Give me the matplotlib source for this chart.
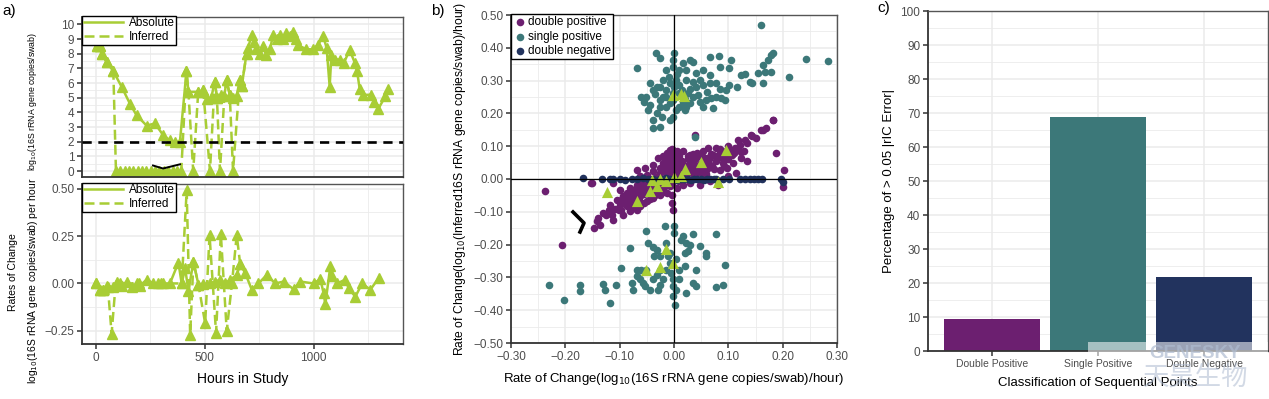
import matplotlib
matplotlib.use('Agg')
import matplotlib.pyplot as plt
from matplotlib.lines import Line2D
from matplotlib.patches import Rectangle
from matplotlib.ticker import MultipleLocator, FuncFormatter

plt.rcParams['font.family'] = ['Liberation Sans', 'DejaVu Sans']

lime = '#A8CD35'
purple = '#6C1F70'
teal = '#3C7879'
navy = '#22335E'
grid_c = '#EBEBEB'

# --- panel a (top): log10 copies per swab over time
abs_hours = [5, 18, 26, 49, 80, 118, 156, 187, 233, 271,
             309, 340, 365, 386, 416, 425, 470, 493, 510, 530,
             546, 556, 575, 590, 600, 615, 630, 646, 661, 670,
             692, 700, 715, 725, 737, 755, 768, 783, 800, 814,
             830, 845, 860, 875, 890, 906, 918, 929, 965, 998,
             1020, 1044, 1060, 1074, 1082, 1100, 1120, 1140, 1166, 1189,
             1200, 1212, 1225, 1265, 1280, 1296, 1330, 1342]
abs_log = [8.5, 8.5, 8.0, 7.45, 6.8, 5.75, 4.6, 3.8, 3.1, 3.25,
           2.45, 2.1, 2.0, 2.0, 6.8, 5.4, 5.4, 5.5, 4.9, 5.0,
           6.1, 5.0, 5.2, 5.1, 6.2, 5.2, 5.0, 5.1, 6.2, 5.8,
           8.0, 8.4, 9.3, 8.8, 8.3, 8.0, 8.5, 7.9, 8.3, 9.3,
           9.0, 9.3, 9.0, 9.4, 9.2, 9.5, 9.0, 8.6, 8.3, 8.3,
           8.6, 9.2, 8.4, 5.75, 7.9, 7.6, 7.6, 7.4, 8.25, 7.4,
           6.8, 5.6, 5.2, 5.2, 4.7, 4.2, 5.1, 5.6]
inf_hours = [5, 18, 26, 49, 80,
             92, 112, 132, 152, 172, 192, 212, 232,
             252, 272, 292, 312, 332, 352, 372, 392,
             416, 425, 447, 470, 493, 524, 546, 556,
             570, 590, 600, 615, 630, 661, 670, 692]
inf_log = [8.5, 8.5, 8.0, 7.45, 6.8,
           0, 0, 0, 0, 0, 0, 0, 0,
           0, 0, 0, 0, 0, 0, 0, 0,
           6.8, 5.4, 0, 5.4, 5.5, 0, 6.1, 5.0,
           0, 5.1, 6.2, 5.2, 0, 6.2, 5.8, 8.0]

# --- panel a (bottom): rates of change
rate_hours = [0, 18, 34, 49, 80, 95, 118, 141, 164, 187,
              202, 233, 264, 287, 310, 340, 379, 394, 410, 425,
              448, 471, 494, 525, 548, 571, 594, 617, 647, 663,
              686, 716, 747, 785, 824, 862, 908, 939, 1000, 1031,
              1046, 1054, 1077, 1085, 1108, 1146, 1161, 1192, 1223, 1261,
              1299]
rate_abs = [0.005, -0.033, -0.033, -0.012, -0.02, 0.01, -0.016, 0.01, -0.02, 0.0,
            -0.012, 0.02, 0.0, 0.0, 0.0, 0.0, 0.11, 0.0, 0.08, -0.04,
            0.115, -0.007, -0.002, 0.0, 0.01, 0.02, 0.0, 0.02, 0.045, 0.1,
            0.055, -0.033, 0.0, 0.045, 0.0, 0.01, -0.03, 0.01, 0.0, 0.023,
            -0.05, -0.11, 0.09, 0.037, 0.0, 0.02, -0.025, -0.07, 0.0, -0.033,
            0.028]
inf_rate_hours = [0, 18, 34, 55, 72, 90, 110, 200, 300, 394, 417,
                  433, 448, 471, 502, 522, 552, 574, 601, 625, 647, 663]
inf_rate = [0.005, -0.033, -0.033, -0.02, -0.264, -0.01, 0.0, 0.0, 0.0, 0.0, 0.49,
            -0.27, 0.115, -0.007, -0.21, 0.255, -0.26, 0.26, -0.25, 0.0, 0.255, 0.1]

# --- panel b: rate of change, absolute vs inferred
dp_x = [0.183, 0.164, 0.143, 0.130, 0.118, 0.100, 0.078, 0.063, 0.054, 0.042,
        0.029, 0.017, 0.005, -0.007, -0.013, -0.020, -0.029, -0.038, -0.053, -0.069,
        0.124, 0.134, 0.106, 0.091, 0.078, 0.066, 0.054, 0.042, 0.029, 0.017,
        0.011, 0.005, -0.001, -0.013, -0.026, -0.038, -0.050, -0.062, -0.151, -0.112,
        -0.099, -0.087, -0.093, -0.105, -0.081, -0.069, -0.056, -0.044, -0.032, -0.020,
        -0.007, 0.005, 0.017, 0.029, 0.048, 0.066, 0.081, -0.118, -0.130, -0.142,
        -0.148, -0.136, -0.115, -0.102, -0.087, -0.075, -0.062, -0.050, -0.038, -0.026,
        -0.013, -0.004, -0.004, -0.001, -0.081, -0.093, -0.112, -0.069, -0.056, -0.026,
        -0.013, -0.038, 0.011, 0.023, 0.036, 0.054, 0.060, 0.072, 0.085, 0.097,
        0.112, 0.121, -0.020, -0.007, -0.026, -0.050, -0.069, -0.081, 0.100, 0.115,
        0.085, 0.097, 0.038, 0.182, 0.188, 0.203, 0.200, -0.152, -0.238, 0.124,
        0.142, 0.160, 0.170, -0.207, -0.002, -0.008,
        -0.010, 0.000, 0.010, 0.020, 0.030, 0.040, 0.000, -0.010, -0.020, -0.030,
        -0.040, -0.050, -0.060, -0.030, -0.020, 0.010, 0.020, 0.030, 0.045, 0.055,
        0.065, 0.075, 0.040, 0.025, 0.005, -0.005, -0.015, -0.045, -0.055, -0.070,
        -0.080, -0.090, -0.100, -0.075, -0.065, -0.045, -0.035, 0.010, 0.000, -0.015,
        0.035, 0.060, 0.070, 0.090, 0.100, 0.110, 0.085, 0.095,
        -0.140, -0.125, -0.120, -0.108, -0.098, -0.095, -0.085, -0.078, -0.072, -0.066,
        -0.060, -0.058, -0.052, -0.048, -0.042, -0.038, -0.034, -0.028, -0.024, -0.018,
        -0.016, -0.012, -0.008, -0.004, 0.002, 0.004, 0.008, 0.014, 0.016, 0.022,
        0.026, 0.032, 0.036, 0.044, 0.048, 0.052, 0.058, 0.062, 0.068, 0.074,
        0.080, 0.088, 0.092, 0.104, 0.108, 0.116, 0.128, 0.135, 0.150, -0.003]
dp_y = [0.181, 0.150, 0.130, 0.120, 0.120, 0.100, 0.095, 0.095, 0.084, 0.079,
        0.074, 0.084, 0.084, 0.089, 0.079, 0.069, 0.064, 0.044, 0.034, 0.028,
        0.064, 0.054, 0.074, 0.064, 0.054, 0.044, 0.034, 0.023, 0.034, 0.044,
        0.054, 0.064, 0.044, 0.054, 0.034, 0.023, 0.013, 0.008, -0.012, -0.012,
        -0.033, -0.043, -0.053, -0.063, -0.063, -0.048, -0.038, -0.027, -0.017, -0.012,
        -0.022, -0.027, -0.017, -0.012, -0.017, -0.007, -0.017, -0.078, -0.104, -0.129,
        -0.149, -0.139, -0.109, -0.093, -0.083, -0.073, -0.083, -0.068, -0.058, -0.048,
        -0.043, -0.048, -0.073, -0.095, -0.099, -0.109, -0.124, -0.093, -0.073, -0.022,
        -0.002, -0.002, 0.018, 0.013, 0.008, 0.013, 0.064, 0.074, 0.079, 0.089,
        0.095, 0.105, 0.049, 0.034, 0.018, -0.007, -0.017, -0.027, 0.008, 0.018,
        0.028, 0.034, 0.134, 0.180, 0.078, 0.027, -0.025, -0.013, -0.036, 0.083,
        0.134, 0.149, 0.157, -0.200, 0.083, 0.068,
        0.010, 0.020, 0.030, 0.040, 0.050, 0.040, 0.000, -0.010, 0.000, 0.010,
        -0.010, -0.020, -0.030, -0.030, -0.040, -0.005, 0.005, 0.020, 0.030, 0.050,
        0.060, 0.070, 0.065, 0.060, 0.050, 0.030, 0.020, 0.000, -0.045, -0.055,
        -0.045, -0.070, -0.080, -0.085, -0.065, -0.060, -0.050, 0.070, 0.075, 0.060,
        0.075, 0.030, 0.040, 0.050, 0.060, 0.080, 0.090, 0.080,
        -0.120, -0.110, -0.095, -0.090, -0.095, -0.060, -0.058, -0.070, -0.035, -0.042,
        -0.050, -0.012, -0.030, -0.005, -0.045, -0.015, 0.005, -0.008, 0.025, -0.025,
        0.040, 0.012, 0.055, -0.015, 0.035, 0.062, 0.010, 0.055, 0.020, 0.025,
        0.070, 0.035, 0.058, 0.020, 0.045, 0.070, 0.015, 0.050, 0.075, 0.030,
        0.060, 0.070, 0.040, 0.085, 0.050, 0.095, 0.085, 0.110, 0.125, 0.090]

sp_x = [0.160, -0.069, -0.034, 0.000, -0.014, -0.025, 0.030, 0.035, 0.066, 0.084,
        0.105, 0.102, 0.101, 0.124, 0.139, 0.154, 0.164, 0.173, 0.179, 0.167,
        0.179, 0.164, 0.212, 0.243, 0.283, -0.060, -0.051, -0.045, -0.039, -0.032,
        -0.048, -0.032, -0.039, -0.039, -0.026, -0.023, -0.008, -0.002, -0.014, -0.002,
        0.010, 0.023, 0.017, 0.026, 0.035, 0.047, 0.053, 0.059, 0.069, 0.072,
        0.078, 0.087, 0.093, 0.096, 0.078, 0.066, 0.053, 0.041, 0.035, 0.047,
        0.023, 0.010, 0.004, -0.008, -0.020, -0.026, -0.014, -0.002, 0.010, -0.014,
        -0.026, -0.008, -0.026, 0.004, 0.020, 0.029, 0.041, 0.053, 0.066, -0.002,
        0.010, 0.023, 0.017, -0.002, 0.038, 0.182, 0.131, 0.116, 0.144, 0.083,
        -0.045, -0.055, -0.020, 0.000, 0.015, 0.030, 0.060, 0.005, -0.010, -0.035,
        0.045, 0.085, 0.020,
        -0.230, -0.203, -0.173, -0.173, -0.130, -0.127, -0.118, -0.106, -0.097, -0.081,
        -0.075, -0.069, -0.063, -0.060, -0.054, -0.051, -0.048, -0.045, -0.039, -0.036,
        -0.032, -0.029, -0.026, -0.020, -0.017, -0.014, -0.011, -0.008, -0.005, -0.002,
        -0.002, 0.000, 0.001, 0.000, 0.004, 0.009, 0.013, 0.017, 0.023, 0.020,
        0.026, 0.029, 0.035, 0.020, 0.035, 0.041, 0.023, 0.047, 0.059, 0.059,
        0.078, 0.093, 0.078, 0.090, 0.041, -0.026, -0.014, 0.010, -0.051, -0.039,
        -0.002, -0.008, -0.026, 0.004, -0.032, -0.057, -0.069, -0.078]
sp_y = [0.470, 0.337, 0.385, 0.383, 0.332, 0.368, 0.363, 0.358, 0.373, 0.342,
        0.363, 0.337, 0.287, 0.317, 0.297, 0.322, 0.348, 0.363, 0.378, 0.327,
        0.327, 0.292, 0.312, 0.366, 0.361, 0.249, 0.251, 0.292, 0.271, 0.281,
        0.210, 0.200, 0.180, 0.154, 0.160, 0.190, 0.180, 0.190, 0.221, 0.241,
        0.221, 0.221, 0.236, 0.261, 0.251, 0.236, 0.221, 0.241, 0.246, 0.215,
        0.251, 0.246, 0.241, 0.271, 0.292, 0.292, 0.287, 0.281, 0.297, 0.302,
        0.302, 0.287, 0.302, 0.292, 0.302, 0.281, 0.271, 0.261, 0.261, 0.251,
        0.241, 0.231, 0.221, 0.210, 0.210, 0.231, 0.322, 0.332, 0.317, 0.342,
        0.332, 0.332, 0.353, 0.363, 0.129, 0.383, 0.321, 0.279, 0.293, 0.375,
        0.225, 0.235, 0.250, 0.280, 0.270, 0.275, 0.265, 0.320, 0.310, 0.260,
        0.255, 0.275, 0.245,
        -0.324, -0.368, -0.324, -0.340, -0.319, -0.339, -0.378, -0.322, -0.271, -0.210,
        -0.337, -0.296, -0.306, -0.276, -0.327, -0.159, -0.196, -0.337, -0.208, -0.234,
        -0.292, -0.337, -0.322, -0.306, -0.144, -0.195, -0.235, -0.256, -0.286, -0.327,
        -0.358, -0.144, -0.383, -0.164, -0.337, -0.306, -0.185, -0.174, -0.195, -0.225,
        -0.219, -0.202, -0.169, -0.266, -0.316, -0.327, -0.347, -0.205, -0.225, -0.235,
        -0.169, -0.261, -0.329, -0.322, -0.276, -0.276, -0.276, -0.276, -0.276, -0.306,
        -0.306, -0.225, -0.235, -0.245, -0.215, -0.317, -0.276, -0.317]

dn_x = [-0.167, -0.132, -0.118, -0.112, -0.100,
        -0.091, -0.078, -0.069, -0.057, -0.048,
        -0.039, -0.032, -0.026, -0.020, -0.014,
        -0.008, 0.000, 0.006, 0.012, 0.018,
        0.025, 0.031, 0.037, 0.043, 0.049,
        0.055, 0.061, 0.067, 0.073, 0.078,
        0.090, 0.102, 0.121, 0.130, 0.139,
        0.148, 0.154, 0.162, 0.197, 0.200]
dn_y = [0.003, 0.0, 0.0, 0.0, 0.0,
        -0.002, 0.0, 0.0, 0.002, 0.0,
        0.0, -0.002, 0.0, 0.0, 0.002,
        0.0, 0.0, -0.002, 0.0, 0.0,
        0.0, -0.002, 0.0, 0.0, 0.0,
        -0.002, 0.0, 0.0, 0.0, 0.0,
        0.0, 0.0, 0.0, 0.0, 0.0,
        0.0, 0.0, 0.0, 0.0, -0.010]

tri_x = [-0.002, 0.012, 0.018,
         0.096, 0.050, 0.020, 0.013, 0.081, -0.124, -0.044, -0.032,
         -0.014, -0.026, -0.069, 0.000, -0.040,
         -0.051, -0.026, -0.014, -0.002]
tri_y = [0.256, 0.258, 0.252,
         0.088, 0.053, 0.030, 0.010, -0.008, -0.039, -0.038, -0.022,
         -0.005, 0.000, -0.068, 0.005, -0.003,
         -0.278, -0.268, -0.212, -0.256]

# --- panel c
classes = ['Double Positive', 'Single Positive', 'Double Negative']
pct_err = [9.3, 68.8, 21.7]
bar_colors = [purple, teal, navy]

W, H = 1269, 399
fig = plt.figure(figsize=(W / 100, H / 100), dpi=100)


def px_axes(l, t, r, b):
    return fig.add_axes([l / W, 1 - b / H, (r - l) / W, (b - t) / H])


def minus(fmt):
    return FuncFormatter(lambda v, p: (fmt % v).replace('-', '\u2212'))


def style_ax(ax):
    ax.set_facecolor('white')
    ax.grid(which='major', color=grid_c, lw=1.1)
    ax.grid(which='minor', color=grid_c, lw=0.6)
    ax.set_axisbelow(True)
    for side in ['left', 'bottom']:
        ax.spines[side].set_color('#333333')
        ax.spines[side].set_linewidth(1.3)
    for side in ['top', 'right']:
        ax.spines[side].set_color('#555555')
        ax.spines[side].set_linewidth(1.0)
    ax.tick_params(which='major', direction='out', length=3.5, width=1.1, color='#333333',
                   labelsize=8.5, labelcolor='#4D4D4D', pad=2)
    ax.tick_params(which='minor', length=0)


def lime_legend(ax):
    handles = [Line2D([], [], color=lime, lw=1.8),
               Line2D([], [], color=lime, lw=1.8, ls=(0, (4, 2)))]
    leg = ax.legend(handles, ['Absolute', 'Inferred'], loc='upper left', bbox_to_anchor=(0, 1.008),
                    borderaxespad=0, fancybox=False, edgecolor='black', framealpha=1,
                    fontsize=8.5, handlelength=3.3, borderpad=0.15, labelspacing=0.15,
                    handletextpad=0.5)
    leg.get_frame().set_linewidth(1.0)


# a) top
ax_top = px_axes(82, 17, 403, 177)
style_ax(ax_top)
ax_top.plot(inf_hours, inf_log, color=lime, lw=1.8, ls=(0, (4, 2)), marker='^', ms=7.5, zorder=2)
ax_top.plot(abs_hours, abs_log, color=lime, lw=1.8, marker='^', ms=7.5, zorder=3)
ax_top.axhline(2, color='black', lw=1.9, ls=(0, (3.5, 2.5)), zorder=4)
ax_top.set_xlim(-64, 1411)
ax_top.set_ylim(-0.4, 10.5)
ax_top.xaxis.set_major_locator(MultipleLocator(500))
ax_top.xaxis.set_minor_locator(MultipleLocator(250))
ax_top.yaxis.set_major_locator(MultipleLocator(1))
ax_top.yaxis.set_minor_locator(MultipleLocator(0.5))
ax_top.tick_params(axis='x', length=0, labelbottom=False)
lime_legend(ax_top)

# a) bottom
ax_bot = px_axes(82, 184, 403, 344)
style_ax(ax_bot)
ax_bot.plot(inf_rate_hours, inf_rate, color=lime, lw=1.8, ls=(0, (4, 2)), marker='^', ms=7.5, zorder=2)
ax_bot.plot(rate_hours, rate_abs, color=lime, lw=1.8, marker='^', ms=7.5, zorder=3)
ax_bot.set_xlim(-64, 1411)
ax_bot.set_ylim(-0.319, 0.524)
ax_bot.xaxis.set_major_locator(MultipleLocator(500))
ax_bot.xaxis.set_minor_locator(MultipleLocator(250))
ax_bot.yaxis.set_major_locator(MultipleLocator(0.25))
ax_bot.yaxis.set_minor_locator(MultipleLocator(0.125))
ax_bot.yaxis.set_major_formatter(minus('%.2f'))
ax_bot.set_xlabel('Hours in Study', fontsize=10, labelpad=6)
lime_legend(ax_bot)

fig.text(33 / W, 1 - 101 / H, 'log$_{10}$(16S rRNA gene copies/swab)', rotation=90,
         ha='center', va='center', fontsize=6.3)
fig.text(13 / W, 1 - 272 / H, 'Rates of Change', rotation=90, ha='center', va='center', fontsize=7.5)
fig.text(33 / W, 1 - 281 / H, 'log$_{10}$(16S rRNA gene copies/swab) per hour', rotation=90,
         ha='center', va='center', fontsize=7.5)

# b) scatter
ax_b = px_axes(511, 15, 837, 343)
style_ax(ax_b)
ax_b.scatter(dp_x, dp_y, s=30, color=purple, lw=0, label='double positive', zorder=2)
ax_b.scatter(sp_x, sp_y, s=30, color=teal, lw=0, label='single positive', zorder=2)
ax_b.scatter(dn_x, dn_y, s=30, color=navy, lw=0, label='double negative', zorder=3)
ax_b.scatter(tri_x, tri_y, s=65, color=lime, marker='^', lw=0, zorder=4)
ax_b.axhline(0, color='black', lw=0.9, zorder=5)
ax_b.axvline(0, color='black', lw=0.9, zorder=5)
ax_b.set_xlim(-0.3, 0.3)
ax_b.set_ylim(-0.5, 0.5)
ax_b.xaxis.set_major_locator(MultipleLocator(0.1))
ax_b.xaxis.set_minor_locator(MultipleLocator(0.05))
ax_b.yaxis.set_major_locator(MultipleLocator(0.1))
ax_b.yaxis.set_minor_locator(MultipleLocator(0.05))
ax_b.xaxis.set_major_formatter(minus('%.2f'))
ax_b.yaxis.set_major_formatter(minus('%.2f'))
ax_b.set_xlabel('Rate of Change(log$_{10}$(16S rRNA gene copies/swab)/hour)', fontsize=9.5, labelpad=6)
ax_b.set_ylabel('Rate of Change(log$_{10}$(Inferred16S rRNA gene copies/swab)/hour)', fontsize=8.7, labelpad=4)
leg = ax_b.legend(loc='upper left', bbox_to_anchor=(0, 1.003), borderaxespad=0, fancybox=False,
                  edgecolor='black', framealpha=1, fontsize=8.5, handletextpad=0.0,
                  borderpad=0.2, labelspacing=0.2, handlelength=1.2, scatterpoints=1)
leg.get_frame().set_linewidth(1.0)

# c) bars
ax_c = px_axes(928, 11, 1268, 351)
style_ax(ax_c)
pos = list(range(1, len(classes) + 1))
ax_c.bar(pos, pct_err, width=0.9, color=bar_colors, zorder=2)
ax_c.set_xlim(0.4, 3.6)
ax_c.set_ylim(0, 100)
ax_c.set_xticks(pos)
ax_c.set_xticklabels(classes, fontsize=7.5)
ax_c.yaxis.set_major_locator(MultipleLocator(10))
ax_c.yaxis.set_minor_locator(MultipleLocator(5))
ax_c.grid(which='minor', axis='x', visible=False)
ax_c.set_xlabel('Classification of Sequential Points', fontsize=9.5, labelpad=6)
ax_c.set_ylabel('Percentage of > 0.05 |rIC Error|', fontsize=9.5, labelpad=4)

# panel letters and hand-drawn brackets
fig.text(2 / W, 1 - 11 / H, 'a)', fontsize=11, va='center')
fig.text(431 / W, 1 - 11 / H, 'b)', fontsize=11, va='center')
fig.text(877 / W, 1 - 8 / H, 'c)', fontsize=11, va='center')

brace_a = [(153, 165.5), (163, 168.5), (180, 164.3)]
brace_b = [(573, 212), (584, 223), (580, 232)]
fig.add_artist(Line2D([p[0] / W for p in brace_a], [1 - p[1] / H for p in brace_a], color='black', lw=1.4))
fig.add_artist(Line2D([p[0] / W for p in brace_b], [1 - p[1] / H for p in brace_b], color='black', lw=2.6))

# watermark
fig.add_artist(Rectangle((1088 / W, 1 - 356 / H), 180 / W, 14 / H, transform=fig.transFigure,
                         color='white', alpha=0.55, lw=0))
fig.text(1195 / W, 1 - 354 / H, 'GENESKY', fontsize=13.5, color='#AEBBD0', alpha=0.7,
         ha='center', va='center', fontweight='bold')
fig.text(1196 / W, 1 - 377 / H, '天昊生物', fontsize=19, color='#AEBBD0', alpha=0.55,
         ha='center', va='center', family=['Noto Sans CJK SC', 'DejaVu Sans'])

fig.savefig('out.png', dpi=100)
